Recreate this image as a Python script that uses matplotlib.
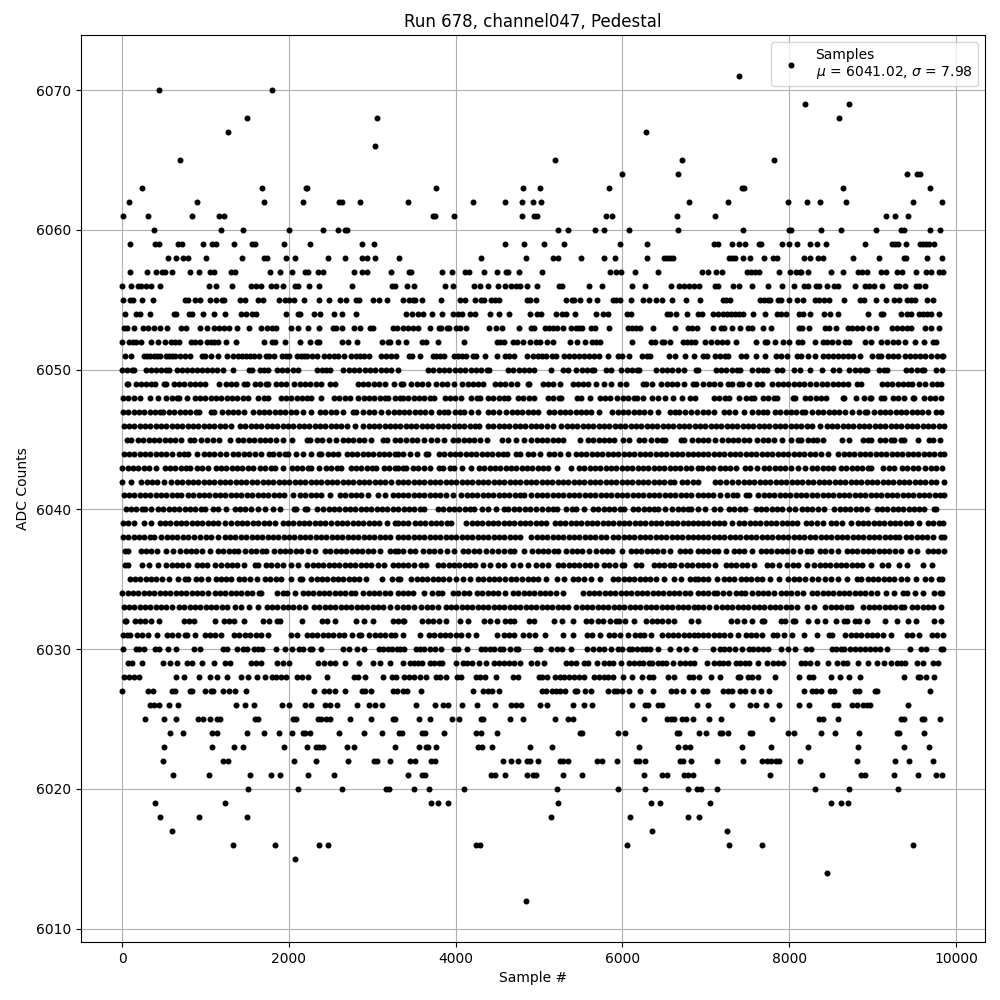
"""Pedestal scan of one ADC channel, values read level by level off the plot."""
import matplotlib
matplotlib.use("Agg")
import matplotlib.pyplot as plt

# sample numbers seen at each ADC count
s6071 = [7400]
s6070 = [440, 1796]
s6069 = [8192, 8720]
s6068 = [1496, 3056, 8600]
s6067 = [1268, 6280]
s6066 = [3032]
s6065 = [692, 5188, 6712, 7820]
s6064 = [5992, 6664, 9416, 9536, 9572]
s6063 = [236, 1676, 2204, 2220, 3760, 4804, 5008, 5836, 7436, 7460, 8648, 9692]
s6062 = [80, 896, 1700, 2168, 2600, 2636, 2852, 3424, 4204, 4588, 4792, 4924, 5020, 6796, 7268, 7988, 8216, 8372, 8684, 9488, 9836]
s6061 = [8, 308, 836, 1160, 1220, 3724, 3748, 3976, 4792, 4936, 4972, 5800, 5872, 6652, 7112, 9164, 9272, 9428]
s6060 = [380, 1184, 1448, 2000, 2408, 2588, 2672, 2696, 5224, 5344, 5668, 5776, 6076, 6664, 7448, 8000, 8024, 8384, 8624, 9044, 9344, 9380, 9692, 9812]
s6059 = [92, 392, 440, 668, 716, 968, 1076, 1124, 1340, 1556, 1592, 1940, 2252, 2876, 3020, 4588, 4816, 5056, 5296, 5968, 6292, 7100, 7148, 7316, 7400, 7472, 7640, 7664, 7916, 8000, 8096, 8252, 8336, 8444, 8912, 9236, 9272, 9308, 9404, 9572, 9608, 9644, 9680, 9740]
s6058 = [548, 644, 728, 788, 1004, 1436, 1700, 1736, 1964, 2072, 2468, 2672, 2876, 2936, 3032, 3320, 4300, 4840, 5164, 5224, 5500, 5776, 5908, 6292, 6496, 6536, 6570, 6604, 7280, 7320, 7352, 7448, 7532, 7700, 7808, 7856, 8180, 8252, 8348, 8408, 8768, 9080, 9380, 9404, 9656, 9836]
s6057 = [92, 296, 404, 476, 512, 596, 812, 920, 1052, 1100, 1304, 1352, 1772, 1892, 2036, 2192, 2228, 2348, 2408, 2780, 2876, 2936, 3224, 3436, 3460, 3832, 3952, 4108, 4156, 4336, 4492, 4600, 4624, 4756, 5032, 5848, 5920, 5980, 6148, 6424, 6956, 7028, 7124, 7196, 7496, 7544, 7592, 7640, 7880, 8012, 8084, 8132, 8144, 8228, 8504, 8648, 8828, 8876, 8936, 9104, 9164, 9296, 9356, 9524, 9644, 9704, 9800, 9850]
s6056 = [0, 104, 188, 224, 284, 344, 452, 1040, 1124, 1316, 1544, 1604, 1664, 1784, 1844, 1928, 2072, 2108, 2240, 2360, 2756, 3236, 3272, 3412, 3496, 3868, 3964, 4216, 4288, 4384, 4508, 4588, 4660, 4720, 4768, 4852, 4972, 5236, 5272, 5596, 5752, 6112, 6268, 6580, 6676, 6736, 6796, 6856, 6916, 7112, 7148, 7328, 7400, 7556, 7748, 7916, 8060, 8180, 8228, 8324, 8360, 8456, 8540, 8588, 8792, 8912, 8960, 9020, 9116, 9284, 9320, 9392, 9524, 9560, 9632]
s6055 = [8, 92, 128, 236, 368, 752, 788, 872, 932, 1052, 1124, 1196, 1220, 1412, 1472, 1628, 1688, 1880, 1952, 2000, 2060, 2180, 2360, 2480, 2612, 2684, 2804, 2836, 3008, 3080, 3176, 3364, 3436, 3484, 3508, 3592, 3820, 4048, 4108, 4228, 4300, 4336, 4420, 4468, 4516, 4852, 4888, 4960, 5320, 5392, 5416, 5488, 5596, 5692, 5884, 5920, 5968, 6100, 6244, 6316, 6400, 6472, 6592, 6760, 6928, 7208, 7248, 7292, 7652, 7700, 7748, 7776, 7868, 7904, 8000, 8096, 8168, 8312, 8360, 8420, 8480, 8660, 8852, 8900, 9044, 9164, 9260, 9320, 9416, 9464, 9512, 9656, 9728]
s6054 = [32, 164, 212, 332, 620, 644, 800, 836, 968, 1100, 1232, 1424, 1484, 1556, 1604, 1964, 2108, 2132, 2300, 2372, 2540, 2636, 2804, 3400, 3472, 3544, 3604, 3712, 3832, 3964, 4024, 4072, 4168, 4228, 4408, 4516, 4640, 4888, 4972, 5020, 5200, 5272, 5320, 5432, 5680, 5764, 5824, 6052, 6100, 6532, 6568, 6640, 6772, 6904, 6956, 7088, 7148, 7208, 7256, 7304, 7352, 7400, 7448, 7568, 7712, 7856, 7904, 7964, 8120, 8168, 8252, 8420, 8492, 8588, 8948, 9104, 9128, 9344, 9416, 9464, 9560, 9608, 9656, 9704, 9800]
s6053 = [20, 56, 140, 248, 308, 380, 452, 536, 704, 764, 932, 1016, 1100, 1160, 1220, 1280, 1380, 1520, 1664, 1736, 1796, 1844, 2024, 2108, 2228, 2360, 2528, 2564, 2636, 2780, 2852, 2972, 3008, 3248, 3296, 3364, 3424, 3484, 3544, 3688, 3796, 3820, 3892, 3916, 4000, 4048, 4120, 4396, 4480, 4552, 4756, 4900, 4936, 5068, 5116, 5164, 5212, 5284, 5380, 5440, 5476, 5512, 5620, 5668, 5836, 6064, 6112, 6160, 6208, 6364, 6628, 6784, 6832, 6892, 7088, 7184, 7220, 7316, 7412, 7508, 7556, 7688, 7784, 8120, 8156, 8240, 8432, 8480, 8564, 8708, 8756, 8816, 8876, 8960, 9044, 9236, 9296, 9356, 9416, 9464, 9632, 9704, 9800]
s6052 = [0, 80, 128, 164, 224, 344, 428, 512, 584, 632, 680, 824, 872, 932, 1016, 1064, 1100, 1148, 1244, 1364, 1700, 1796, 1832, 1952, 2132, 2252, 2336, 2360, 2636, 2708, 2816, 3116, 3188, 3212, 3308, 3400, 3592, 3640, 3784, 4096, 4492, 4528, 4576, 4684, 4732, 4804, 4888, 4960, 5008, 5092, 5164, 5368, 5452, 5548, 5632, 5680, 5728, 6112, 6340, 6388, 6472, 6496, 6568, 6724, 6772, 6820, 6868, 6992, 7064, 7136, 7196, 7256, 7364, 7604, 7712, 7736, 7832, 7928, 8000, 8108, 8156, 8312, 8408, 8456, 8516, 8588, 8672, 8720, 8912, 8984, 9104, 9176, 9248, 9308, 9392, 9512, 9620, 9728, 9764]
s6051 = [32, 104, 260, 300, 340, 380, 420, 460, 524, 564, 600, 640, 700, 760, 820, 960, 1000, 1064, 1148, 1256, 1328, 1388, 1436, 1484, 1532, 1580, 1640, 1724, 1760, 1820, 1920, 1960, 2000, 2100, 2140, 2180, 2220, 2280, 2340, 2420, 2480, 2540, 2588, 2660, 2740, 2800, 2852, 2900, 2960, 3100, 3164, 3220, 3280, 3436, 3480, 3568, 3724, 3768, 3808, 3856, 3976, 4024, 4072, 4128, 4208, 4240, 4348, 4492, 4588, 4636, 4696, 4852, 4924, 4984, 5036, 5080, 5152, 5200, 5296, 5356, 5416, 5476, 5536, 5596, 5656, 5716, 5824, 5944, 5992, 6076, 6232, 6296, 6336, 6564, 6636, 6748, 6856, 6968, 7016, 7112, 7168, 7228, 7272, 7424, 7484, 7604, 7712, 7844, 7904, 7976, 8096, 8144, 8228, 8312, 8408, 8468, 8528, 8588, 8648, 8708, 8768, 8848, 8996, 9068, 9104, 9188, 9248, 9304, 9392, 9448, 9508, 9568, 9628, 9704, 9768, 9828, 9850]
s6050 = [4, 60, 120, 148, 292, 352, 412, 472, 532, 568, 660, 720, 780, 840, 900, 960, 1020, 1080, 1140, 1208, 1332, 1520, 1560, 1652, 1700, 1748, 1852, 1916, 1980, 2044, 2108, 2332, 2392, 2448, 2488, 2652, 2716, 2780, 2844, 2908, 2972, 3036, 3100, 3164, 3228, 3308, 3668, 3732, 3796, 3860, 3924, 3988, 4052, 4116, 4180, 4244, 4308, 4372, 4404, 4628, 4692, 4756, 4820, 4884, 4944, 5148, 5288, 5344, 5448, 5512, 5576, 5640, 5664, 5808, 5864, 5988, 6052, 6116, 6180, 6204, 6408, 6472, 6536, 6600, 6664, 6744, 6888, 6904, 7120, 7184, 7248, 7312, 7376, 7416, 7560, 7624, 7688, 7736, 7860, 7916, 8060, 8136, 8248, 8392, 8520, 8596, 8720, 8784, 8848, 8912, 8936, 9080, 9140, 9176, 9400, 9464, 9528, 9592, 9616, 9760, 9836]
s6049 = [60, 76, 172, 232, 292, 352, 396, 500, 528, 620, 684, 748, 812, 876, 940, 996, 1160, 1244, 1308, 1372, 1468, 1500, 1592, 1656, 1720, 1748, 1840, 1904, 1960, 2064, 2128, 2192, 2256, 2320, 2380, 2492, 2548, 2824, 2888, 2952, 3016, 3080, 3148, 3260, 3340, 3368, 3468, 3532, 3596, 3664, 3768, 3832, 3896, 3984, 4080, 4144, 4208, 4272, 4324, 4468, 4532, 4596, 4664, 4736, 4868, 4884, 5048, 5112, 5164, 5256, 5408, 5472, 5524, 5584, 5680, 5776, 5864, 5968, 6044, 6248, 6284, 6356, 6468, 6532, 6596, 6660, 6744, 6848, 6884, 6972, 7036, 7100, 7176, 7272, 7316, 7400, 7436, 7520, 7620, 7676, 7800, 7864, 7928, 7992, 8056, 8120, 8184, 8248, 8316, 8392, 8448, 8520, 8584, 8648, 8708, 8808, 8864, 9108, 9172, 9236, 9300, 9364, 9428, 9476, 9556, 9628, 9712, 9776, 9816]
s6048 = [12, 76, 140, 220, 332, 428, 532, 596, 660, 688, 780, 872, 936, 1000, 1064, 1128, 1192, 1256, 1320, 1384, 1448, 1508, 1632, 1696, 1748, 1900, 1964, 2028, 2092, 2156, 2220, 2268, 2388, 2540, 2604, 2668, 2728, 2832, 2896, 2960, 3024, 3088, 3152, 3188, 3272, 3336, 3368, 3432, 3496, 3560, 3624, 3688, 3744, 3868, 3932, 3996, 4064, 4188, 4252, 4296, 4388, 4452, 4516, 4580, 4624, 4748, 4812, 4876, 4944, 5108, 5172, 5236, 5264, 5456, 5504, 5608, 5728, 5792, 5856, 5936, 6008, 6072, 6136, 6176, 6244, 6356, 6424, 6516, 6608, 6716, 6808, 6876, 7100, 7164, 7228, 7284, 7400, 7480, 7544, 7576, 7688, 7752, 7816, 7856, 8048, 8076, 8192, 8256, 8320, 8384, 8436, 8640, 8656, 8796, 8900, 8964, 8976, 9100, 9136, 9240, 9304, 9376, 9480, 9496, 9620, 9684, 9748, 9816]
s6047 = [12, 76, 140, 204, 268, 332, 396, 460, 488, 564, 628, 692, 756, 820, 884, 928, 1072, 1108, 1204, 1268, 1332, 1396, 1468, 1572, 1636, 1700, 1764, 1828, 1892, 1956, 2020, 2084, 2168, 2260, 2372, 2436, 2500, 2564, 2648, 2772, 2808, 2892, 2956, 3020, 3108, 3192, 3256, 3320, 3380, 3444, 3508, 3572, 3636, 3704, 3800, 3864, 3904, 3988, 4052, 4104, 4180, 4264, 4388, 4452, 4524, 4608, 4672, 4736, 4800, 4864, 4928, 4992, 5120, 5184, 5248, 5312, 5376, 5440, 5504, 5568, 5624, 5716, 5880, 5944, 6008, 6072, 6136, 6200, 6264, 6328, 6424, 6568, 6632, 6684, 6752, 6828, 6892, 6968, 7032, 7096, 7220, 7284, 7356, 7456, 7560, 7624, 7688, 7736, 7832, 7896, 7960, 8024, 8088, 8152, 8196, 8280, 8344, 8408, 8472, 8536, 8600, 8664, 8756, 8840, 8904, 8936, 9020, 9084, 9148, 9212, 9276, 9340, 9404, 9468, 9532, 9596, 9660, 9756, 9824]
s6046 = [20, 84, 148, 212, 276, 340, 404, 468, 532, 596, 660, 724, 788, 852, 916, 980, 1044, 1108, 1172, 1236, 1308, 1412, 1476, 1540, 1604, 1668, 1732, 1796, 1860, 1924, 1988, 2052, 2116, 2180, 2244, 2308, 2372, 2436, 2500, 2564, 2628, 2692, 2788, 2892, 2956, 3020, 3084, 3148, 3212, 3276, 3336, 3400, 3464, 3528, 3592, 3656, 3720, 3784, 3848, 3912, 3976, 4040, 4104, 4168, 4232, 4284, 4388, 4452, 4516, 4580, 4644, 4708, 4772, 4836, 4900, 4964, 5028, 5092, 5164, 5268, 5332, 5396, 5460, 5524, 5588, 5652, 5716, 5780, 5844, 5908, 5972, 6036, 6100, 6164, 6228, 6292, 6356, 6420, 6484, 6548, 6612, 6676, 6740, 6804, 6868, 6932, 6996, 7060, 7124, 7188, 7252, 7316, 7380, 7444, 7508, 7572, 7636, 7700, 7764, 7828, 7892, 7956, 8020, 8084, 8148, 8212, 8276, 8368, 8448, 8512, 8576, 8640, 8704, 8768, 8832, 8896, 8960, 9024, 9088, 9152, 9216, 9280, 9344, 9408, 9472, 9536, 9600, 9664, 9728, 9792, 9856]
s6045 = [60, 108, 192, 256, 320, 384, 448, 512, 576, 640, 708, 820, 860, 952, 1016, 1088, 1160, 1292, 1392, 1456, 1520, 1584, 1648, 1712, 1776, 1840, 1928, 2036, 2212, 2248, 2332, 2396, 2476, 2564, 2644, 2708, 2772, 2836, 2896, 2984, 3124, 3180, 3272, 3336, 3408, 3472, 3536, 3624, 3708, 3772, 3864, 3968, 4032, 4096, 4160, 4224, 4288, 4376, 4556, 4624, 4728, 4816, 4908, 4972, 5036, 5100, 5164, 5228, 5284, 5488, 5588, 5652, 5716, 5780, 5844, 5896, 6008, 6084, 6200, 6264, 6348, 6412, 6476, 6516, 6708, 6736, 6840, 6904, 6968, 7032, 7116, 7200, 7264, 7328, 7392, 7456, 7520, 7616, 7688, 7752, 7816, 7920, 8024, 8112, 8144, 8232, 8288, 8336, 8408, 8628, 8712, 8880, 8944, 8984, 9088, 9152, 9216, 9256, 9340, 9376, 9548, 9672, 9720, 9808]
s6044 = [20, 84, 148, 212, 276, 340, 404, 468, 532, 596, 684, 748, 788, 900, 980, 1044, 1108, 1172, 1248, 1332, 1396, 1460, 1524, 1588, 1668, 1760, 1808, 1884, 1948, 1988, 2084, 2168, 2260, 2364, 2380, 2464, 2528, 2588, 2692, 2756, 2820, 2884, 2948, 3012, 3076, 3140, 3204, 3268, 3308, 3368, 3456, 3536, 3640, 3672, 3800, 3864, 3928, 3992, 4056, 4120, 4184, 4248, 4312, 4376, 4440, 4504, 4568, 4616, 4728, 4776, 4868, 4932, 5016, 5120, 5184, 5248, 5344, 5440, 5504, 5568, 5632, 5696, 5760, 5824, 5888, 5952, 6016, 6080, 6144, 6208, 6272, 6336, 6400, 6464, 6528, 6592, 6656, 6720, 6784, 6848, 6904, 6968, 7032, 7096, 7160, 7224, 7288, 7352, 7416, 7480, 7544, 7608, 7672, 7736, 7800, 7864, 7928, 7992, 8056, 8120, 8184, 8248, 8312, 8376, 8464, 8588, 8652, 8716, 8780, 8844, 8908, 8972, 9036, 9100, 9164, 9228, 9292, 9356, 9420, 9484, 9548, 9612, 9676, 9740, 9804, 9856]
s6043 = [4, 68, 132, 196, 260, 324, 408, 512, 576, 640, 704, 768, 820, 900, 964, 1028, 1124, 1188, 1252, 1316, 1380, 1444, 1508, 1568, 1652, 1716, 1780, 1836, 1932, 2032, 2096, 2160, 2224, 2268, 2356, 2444, 2508, 2572, 2620, 2740, 2804, 2868, 2932, 2996, 3048, 3140, 3204, 3268, 3308, 3368, 3404, 3488, 3552, 3616, 3696, 3800, 3844, 3936, 3984, 4072, 4184, 4280, 4344, 4408, 4472, 4536, 4600, 4664, 4728, 4792, 4856, 4920, 4984, 5048, 5112, 5216, 5384, 5480, 5544, 5608, 5672, 5736, 5800, 5864, 5928, 5992, 6056, 6120, 6184, 6248, 6312, 6376, 6440, 6504, 6568, 6632, 6696, 6760, 6824, 6904, 6956, 7032, 7088, 7168, 7232, 7296, 7368, 7472, 7536, 7616, 7700, 7764, 7828, 7892, 7956, 8020, 8104, 8192, 8272, 8336, 8400, 8464, 8528, 8620, 8684, 8748, 8812, 8876, 8940, 8984, 9128, 9192, 9256, 9352, 9416, 9480, 9544, 9632, 9696, 9760, 9836]
s6042 = [4, 108, 232, 296, 360, 424, 500, 588, 660, 724, 788, 852, 916, 980, 1044, 1108, 1172, 1236, 1300, 1364, 1428, 1492, 1556, 1620, 1684, 1748, 1812, 1876, 1940, 2004, 2068, 2132, 2196, 2260, 2324, 2388, 2452, 2516, 2580, 2644, 2708, 2772, 2836, 2900, 2964, 3028, 3092, 3156, 3220, 3308, 3368, 3432, 3496, 3560, 3624, 3688, 3752, 3816, 3880, 3944, 4008, 4072, 4136, 4200, 4264, 4328, 4392, 4456, 4520, 4584, 4648, 4712, 4776, 4840, 4904, 4968, 5032, 5096, 5160, 5224, 5288, 5352, 5416, 5480, 5544, 5608, 5672, 5736, 5800, 5864, 5928, 5992, 6056, 6120, 6184, 6248, 6312, 6376, 6440, 6504, 6568, 6616, 6716, 6780, 6844, 6904, 7112, 7176, 7240, 7316, 7392, 7456, 7520, 7584, 7648, 7712, 7776, 7840, 7904, 7968, 8032, 8096, 8160, 8224, 8288, 8352, 8416, 8480, 8544, 8608, 8672, 8736, 8800, 8864, 8928, 8992, 9056, 9120, 9184, 9248, 9312, 9376, 9440, 9504, 9568, 9632, 9696, 9760, 9856]
s6041 = [20, 84, 148, 212, 276, 340, 404, 468, 532, 596, 660, 708, 792, 856, 920, 984, 1048, 1112, 1176, 1240, 1304, 1368, 1432, 1496, 1560, 1624, 1688, 1752, 1816, 1880, 1944, 2048, 2132, 2196, 2260, 2324, 2388, 2488, 2612, 2676, 2740, 2804, 2868, 2948, 3072, 3148, 3244, 3308, 3368, 3432, 3496, 3560, 3624, 3688, 3752, 3816, 3880, 3964, 4068, 4132, 4196, 4260, 4324, 4388, 4452, 4516, 4580, 4644, 4708, 4772, 4824, 4908, 4972, 5036, 5100, 5164, 5228, 5292, 5356, 5420, 5484, 5548, 5612, 5676, 5740, 5804, 5868, 5932, 5996, 6060, 6124, 6188, 6252, 6316, 6380, 6444, 6508, 6572, 6636, 6700, 6764, 6828, 6904, 6968, 7032, 7088, 7168, 7260, 7324, 7376, 7480, 7516, 7632, 7696, 7760, 7824, 7888, 7952, 8016, 8080, 8144, 8208, 8272, 8336, 8400, 8464, 8528, 8592, 8656, 8720, 8784, 8848, 8912, 8976, 9040, 9104, 9168, 9232, 9296, 9360, 9424, 9488, 9552, 9616, 9680, 9744, 9808, 9856]
s6040 = [44, 108, 172, 236, 280, 348, 432, 496, 560, 624, 688, 752, 816, 880, 944, 996, 1092, 1156, 1248, 1352, 1416, 1480, 1544, 1628, 1712, 1812, 1888, 2060, 2088, 2192, 2220, 2332, 2412, 2476, 2540, 2604, 2668, 2732, 2796, 2860, 2924, 2988, 3052, 3116, 3180, 3244, 3308, 3376, 3440, 3504, 3568, 3624, 3788, 3852, 3916, 3980, 4044, 4108, 4172, 4216, 4320, 4384, 4484, 4576, 4624, 4700, 4764, 4828, 4892, 4964, 5036, 5108, 5172, 5216, 5328, 5392, 5444, 5544, 5648, 5712, 5776, 5840, 5904, 5968, 6024, 6128, 6192, 6256, 6320, 6384, 6424, 6508, 6600, 6664, 6728, 6792, 6824, 6908, 6988, 7100, 7176, 7280, 7344, 7408, 7476, 7600, 7664, 7728, 7792, 7856, 7920, 7996, 8068, 8152, 8216, 8280, 8344, 8416, 8540, 8604, 8668, 8732, 8796, 8860, 8936, 9048, 9112, 9176, 9240, 9304, 9368, 9432, 9496, 9560, 9616, 9740, 9756]
s6039 = [12, 76, 148, 268, 352, 452, 516, 580, 644, 708, 772, 836, 900, 964, 1028, 1092, 1148, 1236, 1312, 1376, 1440, 1504, 1568, 1632, 1696, 1760, 1828, 1924, 1988, 2052, 2116, 2180, 2244, 2308, 2372, 2428, 2500, 2572, 2636, 2700, 2764, 2828, 2892, 2956, 3020, 3084, 3180, 3272, 3308, 3368, 3424, 3508, 3572, 3636, 3700, 3764, 3828, 3892, 3944, 4128, 4192, 4256, 4320, 4384, 4448, 4512, 4576, 4640, 4704, 4768, 4832, 4896, 4960, 5024, 5084, 5188, 5252, 5316, 5380, 5444, 5508, 5572, 5636, 5700, 5764, 5828, 5892, 5956, 6020, 6084, 6148, 6212, 6276, 6340, 6404, 6468, 6532, 6596, 6660, 6724, 6788, 6852, 6904, 6968, 7032, 7096, 7160, 7224, 7316, 7400, 7464, 7528, 7592, 7656, 7720, 7784, 7848, 7912, 7976, 8040, 8096, 8200, 8264, 8328, 8408, 8500, 8564, 8636, 8740, 8820, 8884, 8948, 9012, 9076, 9140, 9204, 9268, 9332, 9396, 9460, 9556, 9660, 9724, 9796, 9850]
s6038 = [12, 76, 140, 204, 268, 332, 388, 472, 536, 600, 664, 728, 792, 860, 940, 1004, 1068, 1148, 1232, 1296, 1360, 1424, 1488, 1552, 1616, 1680, 1744, 1808, 1872, 1936, 2000, 2064, 2128, 2192, 2256, 2320, 2384, 2448, 2512, 2576, 2640, 2704, 2768, 2832, 2896, 2960, 3024, 3088, 3152, 3216, 3308, 3368, 3432, 3496, 3560, 3624, 3688, 3752, 3816, 3880, 3944, 4008, 4072, 4136, 4200, 4264, 4328, 4392, 4456, 4520, 4584, 4648, 4712, 4776, 4908, 4972, 5036, 5100, 5164, 5228, 5292, 5356, 5420, 5484, 5548, 5612, 5676, 5740, 5804, 5888, 5952, 6016, 6080, 6144, 6208, 6272, 6336, 6400, 6464, 6528, 6592, 6656, 6720, 6784, 6848, 6904, 6968, 7032, 7096, 7160, 7224, 7288, 7352, 7416, 7480, 7544, 7608, 7672, 7736, 7800, 7864, 7928, 7992, 8056, 8120, 8184, 8248, 8312, 8376, 8440, 8504, 8568, 8632, 8696, 8760, 8824, 8888, 8952, 9016, 9080, 9144, 9208, 9272, 9316, 9400, 9464, 9528, 9592, 9656, 9728, 9820, 9856]
s6037 = [32, 68, 224, 288, 352, 420, 524, 608, 700, 764, 828, 892, 956, 1060, 1152, 1216, 1280, 1344, 1396, 1480, 1544, 1608, 1672, 1728, 1824, 1888, 1952, 2016, 2080, 2148, 2232, 2308, 2432, 2496, 2560, 2624, 2688, 2752, 2816, 2880, 2944, 3008, 3092, 3212, 3276, 3308, 3368, 3448, 3512, 3604, 3680, 3744, 3808, 3896, 3976, 4088, 4152, 4216, 4280, 4364, 4440, 4504, 4576, 4656, 4696, 4824, 4920, 4984, 5048, 5112, 5176, 5224, 5328, 5392, 5456, 5520, 5604, 5688, 5752, 5816, 5880, 5992, 6100, 6164, 6228, 6292, 6356, 6420, 6484, 6568, 6688, 6752, 6816, 6904, 6968, 7032, 7096, 7144, 7240, 7340, 7404, 7456, 7556, 7660, 7724, 7788, 7852, 7916, 7980, 8044, 8136, 8220, 8264, 8368, 8432, 8496, 8584, 8688, 8752, 8816, 8880, 8944, 9008, 9072, 9136, 9200, 9264, 9344, 9448, 9536, 9660, 9724, 9788, 9856]
s6036 = [32, 76, 244, 328, 428, 532, 596, 660, 724, 796, 900, 964, 1020, 1116, 1192, 1256, 1320, 1384, 1468, 1592, 1628, 1724, 1788, 1852, 1928, 2020, 2108, 2220, 2284, 2348, 2412, 2476, 2540, 2604, 2668, 2732, 2796, 2860, 2924, 2988, 3068, 3140, 3244, 3308, 3368, 3432, 3496, 3584, 3648, 3788, 3852, 3916, 3980, 4044, 4108, 4172, 4236, 4324, 4416, 4504, 4584, 4688, 4768, 4872, 4968, 5032, 5104, 5228, 5292, 5356, 5420, 5484, 5548, 5612, 5684, 5776, 5840, 5912, 5992, 6024, 6168, 6224, 6376, 6440, 6504, 6568, 6616, 6708, 6772, 6836, 6904, 6968, 7032, 7116, 7240, 7304, 7368, 7432, 7496, 7576, 7740, 7796, 7880, 7980, 8044, 8108, 8216, 8300, 8364, 8428, 8492, 8556, 8620, 8684, 8748, 8812, 8876, 8976, 9112, 9184, 9320, 9412, 9608, 9716]
s6035 = [92, 156, 220, 284, 348, 412, 476, 564, 668, 752, 788, 884, 948, 1036, 1124, 1188, 1252, 1308, 1404, 1468, 1532, 1620, 1712, 1776, 1840, 1900, 2024, 2132, 2156, 2268, 2332, 2396, 2460, 2524, 2588, 2652, 2716, 2780, 2844, 2928, 3112, 3232, 3308, 3336, 3468, 3532, 3596, 3660, 3724, 3788, 3852, 3916, 4004, 4088, 4176, 4268, 4332, 4396, 4460, 4524, 4588, 4664, 4728, 4800, 4864, 4928, 4992, 5084, 5216, 5300, 5408, 5472, 5536, 5624, 5728, 5888, 5952, 6016, 6080, 6144, 6208, 6272, 6336, 6400, 6504, 6620, 6708, 6808, 6872, 6904, 6968, 7028, 7136, 7220, 7284, 7336, 7420, 7484, 7548, 7612, 7676, 7768, 7884, 7992, 8056, 8120, 8196, 8280, 8344, 8432, 8496, 8584, 8696, 8808, 8856, 8940, 9004, 9068, 9132, 9196, 9260, 9336, 9408, 9516, 9632, 9704, 9792, 9836]
s6034 = [4, 68, 132, 196, 260, 324, 388, 452, 516, 580, 644, 708, 772, 836, 900, 964, 1028, 1112, 1176, 1240, 1304, 1368, 1432, 1496, 1556, 1644, 1668, 1860, 1924, 1980, 2068, 2164, 2228, 2292, 2356, 2420, 2484, 2548, 2612, 2676, 2740, 2796, 2892, 2956, 3020, 3084, 3148, 3212, 3308, 3368, 3432, 3484, 3616, 3720, 3784, 3832, 3968, 4032, 4096, 4164, 4256, 4320, 4384, 4448, 4512, 4592, 4688, 4752, 4816, 4880, 4944, 5008, 5072, 5136, 5200, 5284, 5532, 5596, 5660, 5724, 5788, 5852, 5916, 5980, 6044, 6108, 6172, 6236, 6300, 6364, 6428, 6492, 6556, 6620, 6684, 6748, 6812, 6904, 6968, 7032, 7096, 7136, 7208, 7276, 7360, 7424, 7476, 7560, 7624, 7688, 7752, 7816, 7900, 7964, 8028, 8092, 8168, 8272, 8336, 8400, 8464, 8528, 8592, 8656, 8720, 8784, 8848, 8912, 8976, 9048, 9160, 9256, 9360, 9416, 9508, 9608, 9740, 9804, 9836]
s6033 = [20, 84, 148, 212, 276, 340, 404, 468, 532, 596, 684, 748, 812, 876, 940, 1004, 1068, 1132, 1196, 1260, 1356, 1432, 1524, 1628, 1732, 1796, 1860, 1924, 1988, 2052, 2116, 2196, 2300, 2364, 2428, 2492, 2556, 2620, 2684, 2748, 2812, 2876, 2940, 3004, 3068, 3132, 3208, 3300, 3368, 3432, 3504, 3588, 3652, 3716, 3792, 3880, 3944, 4008, 4072, 4136, 4200, 4264, 4328, 4392, 4456, 4520, 4584, 4648, 4712, 4776, 4840, 4904, 4968, 5032, 5096, 5160, 5224, 5288, 5344, 5448, 5512, 5576, 5640, 5704, 5768, 5832, 5896, 5960, 6024, 6088, 6152, 6216, 6280, 6344, 6408, 6472, 6536, 6600, 6664, 6728, 6792, 6856, 6904, 6968, 7036, 7128, 7192, 7256, 7320, 7384, 7448, 7512, 7576, 7640, 7704, 7768, 7832, 7896, 7960, 8024, 8096, 8220, 8296, 8432, 8496, 8560, 8624, 8688, 8736, 8888, 8952, 9016, 9080, 9144, 9208, 9272, 9336, 9376, 9472, 9536, 9600, 9664, 9728, 9816]
s6032 = [32, 48, 152, 216, 280, 348, 444, 744, 808, 868, 1120, 1220, 1280, 1340, 1460, 1684, 1756, 1860, 1888, 2156, 2392, 2456, 2548, 2800, 2900, 3012, 3252, 3308, 3368, 3384, 3600, 3664, 3728, 3804, 3884, 4048, 4144, 4336, 4416, 4496, 4588, 4648, 4704, 4880, 4944, 5180, 5276, 5404, 5560, 5624, 5708, 5764, 5856, 5920, 5964, 6036, 6140, 6288, 6352, 6416, 6480, 6544, 6616, 6820, 6908, 7308, 7380, 7456, 7560, 7672, 7704, 7900, 7956, 8048, 8076, 8232, 8328, 8428, 8560, 8660, 8688, 8792, 8836, 8928, 9152, 9288, 9428, 9516, 9740, 9816]
s6031 = [12, 60, 100, 180, 244, 308, 420, 540, 604, 668, 752, 780, 880, 992, 1056, 1120, 1188, 1344, 1408, 1472, 1536, 1600, 1664, 1748, 2028, 2100, 2212, 2276, 2340, 2404, 2468, 2532, 2596, 2660, 2756, 2844, 2868, 2964, 3028, 3092, 3156, 3220, 3268, 3368, 3572, 3680, 3744, 3808, 3872, 3936, 4000, 4064, 4148, 4244, 4496, 4580, 4640, 4696, 4808, 4876, 4952, 5076, 5288, 5404, 5576, 5640, 5736, 5840, 5904, 5968, 6064, 6148, 6208, 6264, 6340, 6480, 6544, 6608, 6672, 6736, 6800, 6864, 6904, 6968, 7032, 7096, 7160, 7224, 7288, 7384, 7480, 7544, 7608, 7676, 7812, 7856, 7940, 8036, 8176, 8328, 8472, 8516, 8672, 8736, 8800, 8864, 8928, 8992, 9056, 9120, 9216, 9412, 9476, 9556, 9712, 9776, 9848]
s6030 = [12, 164, 200, 260, 392, 440, 548, 644, 860, 932, 1208, 1256, 1376, 1448, 1496, 1580, 1628, 1676, 1844, 1952, 2036, 2120, 2168, 2252, 2276, 2384, 2648, 2720, 2816, 2900, 3080, 3128, 3188, 3236, 3296, 3336, 3384, 3528, 3576, 3624, 3696, 3756, 3820, 3976, 4024, 4132, 4300, 4348, 4408, 4456, 4528, 4564, 4648, 4720, 4744, 4960, 5008, 5140, 5212, 5272, 5380, 5572, 5644, 5716, 5776, 5860, 5944, 5992, 6076, 6112, 6172, 6232, 6280, 6328, 6424, 6568, 6676, 6760, 6868, 7088, 7172, 7220, 7280, 7352, 7436, 7520, 7568, 7628, 7688, 7748, 7904, 7988, 8072, 8204, 8264, 8516, 8564, 8624, 8660, 8732, 8788, 8848, 8908, 8968, 9028, 9088, 9176, 9452, 9584, 9644, 9824, 9848]
s6029 = [68, 116, 236, 488, 572, 656, 776, 836, 956, 1100, 1232, 1292, 1544, 1604, 1664, 1856, 1928, 2000, 2348, 2420, 2492, 2552, 2672, 2840, 3008, 3092, 3212, 3364, 3448, 3496, 3544, 3592, 3688, 3736, 3796, 3832, 4000, 4084, 4136, 4196, 4276, 4360, 4456, 4516, 4576, 4636, 4696, 4768, 4900, 4972, 5056, 5320, 5380, 5440, 5536, 5584, 5692, 5776, 5836, 5884, 5980, 6076, 6136, 6196, 6244, 6316, 6352, 6424, 6472, 6520, 6604, 6688, 6748, 6808, 6856, 7016, 7100, 7160, 7208, 7268, 7364, 7416, 7468, 7520, 7628, 7736, 7808, 7868, 7928, 8144, 8192, 8252, 8336, 8468, 8576, 8648, 8696, 8828, 8948, 9056, 9140, 9224, 9288, 9344, 9392, 9536, 9608, 9728, 9788]
s6028 = [20, 80, 140, 200, 644, 740, 920, 1052, 1136, 1256, 1424, 1508, 1616, 1712, 1796, 1844, 1904, 1964, 2096, 2156, 2228, 2456, 2780, 2828, 2912, 3128, 3236, 3284, 3384, 3444, 3504, 3568, 3640, 3768, 3816, 3880, 4012, 4060, 4240, 4288, 4348, 4480, 4684, 4744, 4996, 5032, 5092, 5188, 5248, 5296, 5356, 5416, 5476, 5536, 5656, 5716, 5776, 5824, 5884, 6004, 6112, 6232, 6316, 6364, 6544, 6616, 6796, 6844, 6916, 7064, 7172, 7384, 7408, 7508, 7556, 7628, 7832, 8120, 8240, 8288, 8504, 8612, 8720, 8852, 9380, 9548, 9572, 9644, 9740]
s6027 = [0, 308, 368, 596, 632, 812, 836, 992, 1064, 1088, 1208, 1280, 1352, 1484, 2300, 2420, 2480, 2552, 2672, 2876, 2912, 2984, 3248, 3296, 3364, 3412, 3580, 4204, 4324, 4384, 4432, 4516, 5032, 5080, 5152, 5200, 5248, 5308, 5428, 5452, 5548, 5620, 5824, 5896, 5932, 5992, 6076, 6208, 6364, 6580, 6640, 6724, 6844, 6968, 7016, 7208, 7268, 7316, 7412, 7472, 7568, 7664, 7760, 8180, 8276, 8324, 8384, 8492, 8540, 8792, 8840, 9032, 9056, 9692]
s6026 = [332, 380, 440, 560, 668, 1364, 1472, 1580, 1916, 2000, 2192, 2264, 2432, 2492, 2576, 2816, 2960, 3032, 3116, 3520, 3748, 3844, 3904, 4072, 4252, 4468, 4660, 4720, 4780, 5008, 5092, 5404, 5536, 5632, 6112, 6268, 6304, 6424, 6472, 6892, 7028, 7316, 7532, 7604, 7724, 7880, 8120, 8240, 8540, 8588, 8756, 8816, 8888, 8936, 8972, 9428]
s6025 = [272, 500, 644, 908, 968, 1052, 1136, 1172, 1592, 1628, 2048, 2084, 2348, 2384, 2444, 2492, 2732, 2984, 3248, 3272, 3556, 3688, 3952, 4036, 4300, 4324, 4648, 4804, 5188, 5344, 5404, 6256, 6532, 6580, 6616, 6712, 6760, 6844, 7040, 7184, 7796, 8360, 8408, 8588, 9344, 9380, 9596, 9620, 9812]
s6024 = [572, 728, 1076, 1136, 1496, 1700, 1880, 2036, 2168, 2192, 2252, 2600, 2900, 3116, 3320, 3352, 3592, 3628, 3856, 4240, 4300, 4492, 5488, 5512, 5944, 6028, 6652, 6676, 6916, 7004, 7172, 7196, 7268, 7532, 7556, 7988, 8060, 8384, 8552, 8840, 9296, 9320, 9620]
s6023 = [500, 1076, 1340, 1448, 1940, 2216, 2324, 2360, 2408, 2696, 2780, 3272, 3556, 3640, 3664, 3760, 4264, 4312, 4432, 4888, 5152, 6196, 6664, 6748, 6808, 7436, 7784, 8228, 8828, 9380, 9680]
s6022 = [488, 1208, 1268, 2060, 2324, 2708, 3020, 3056, 3212, 3448, 3508, 3700, 3748, 4564, 4660, 4744, 4852, 4888, 4984, 5248, 5284, 5344, 5692, 5752, 5932, 6160, 6196, 6268, 6688, 6724, 6820, 7136, 7448, 7676, 7736, 7784, 7844, 7880, 8132, 8816, 9272, 9440, 9728]
s6021 = [608, 1040, 1532, 1784, 1892, 2228, 2540, 3424, 3592, 3628, 4420, 4468, 4588, 4852, 4924, 4960, 5284, 5512, 6256, 6472, 6532, 6736, 6784, 6844, 7772, 8396, 8864, 8912, 9260, 9548, 9764, 9836]
s6020 = [1508, 2108, 2636, 3164, 3200, 3496, 3676, 4096, 5212, 5944, 6268, 6784, 6892, 6944, 7136, 8312, 8720, 9308]
s6019 = [392, 1232, 3700, 3784, 3904, 5224, 6340, 6448, 7052, 8504, 8624, 8708]
s6018 = [452, 920, 1496, 5140, 6088, 6784, 6920]
s6017 = [596, 6352, 7256]
s6016 = [1328, 1832, 2360, 2468, 4240, 4288, 6052, 7280, 7676, 9488]
s6015 = [2072]
s6014 = [8456]
s6012 = [4840]

adc_levels = [6071, 6070, 6069, 6068, 6067, 6066, 6065, 6064, 6063, 6062, 6061, 6060, 6059, 6058, 6057, 6056,
              6055, 6054, 6053, 6052, 6051, 6050, 6049, 6048, 6047, 6046, 6045, 6044, 6043, 6042, 6041, 6040,
              6039, 6038, 6037, 6036, 6035, 6034, 6033, 6032, 6031, 6030, 6029, 6028, 6027, 6026, 6025, 6024,
              6023, 6022, 6021, 6020, 6019, 6018, 6017, 6016, 6015, 6014, 6012]
adc_samples = [s6071, s6070, s6069, s6068, s6067, s6066, s6065, s6064, s6063, s6062, s6061, s6060, s6059, s6058, s6057, s6056,
               s6055, s6054, s6053, s6052, s6051, s6050, s6049, s6048, s6047, s6046, s6045, s6044, s6043, s6042, s6041, s6040,
               s6039, s6038, s6037, s6036, s6035, s6034, s6033, s6032, s6031, s6030, s6029, s6028, s6027, s6026, s6025, s6024,
               s6023, s6022, s6021, s6020, s6019, s6018, s6017, s6016, s6015, s6014, s6012]

x = []
y = []
for level, samples in zip(adc_levels, adc_samples):
    x.extend(samples)
    y.extend([level] * len(samples))

fig, ax = plt.subplots(figsize=(10, 10))
ax.plot(x, y, 'k.', markersize=6.6, label='Samples\n$\\mu$ = 6041.02, $\\sigma$ = 7.98')
ax.set_title('Run 678, channel047, Pedestal')
ax.set_xlabel('Sample #')
ax.set_ylabel('ADC Counts')
ax.ticklabel_format(useOffset=False)
ax.grid(True)
ax.legend(loc='upper right')
fig.subplots_adjust(left=0.081, right=0.985, top=0.965, bottom=0.058)
plt.savefig('out.png', dpi=100)
